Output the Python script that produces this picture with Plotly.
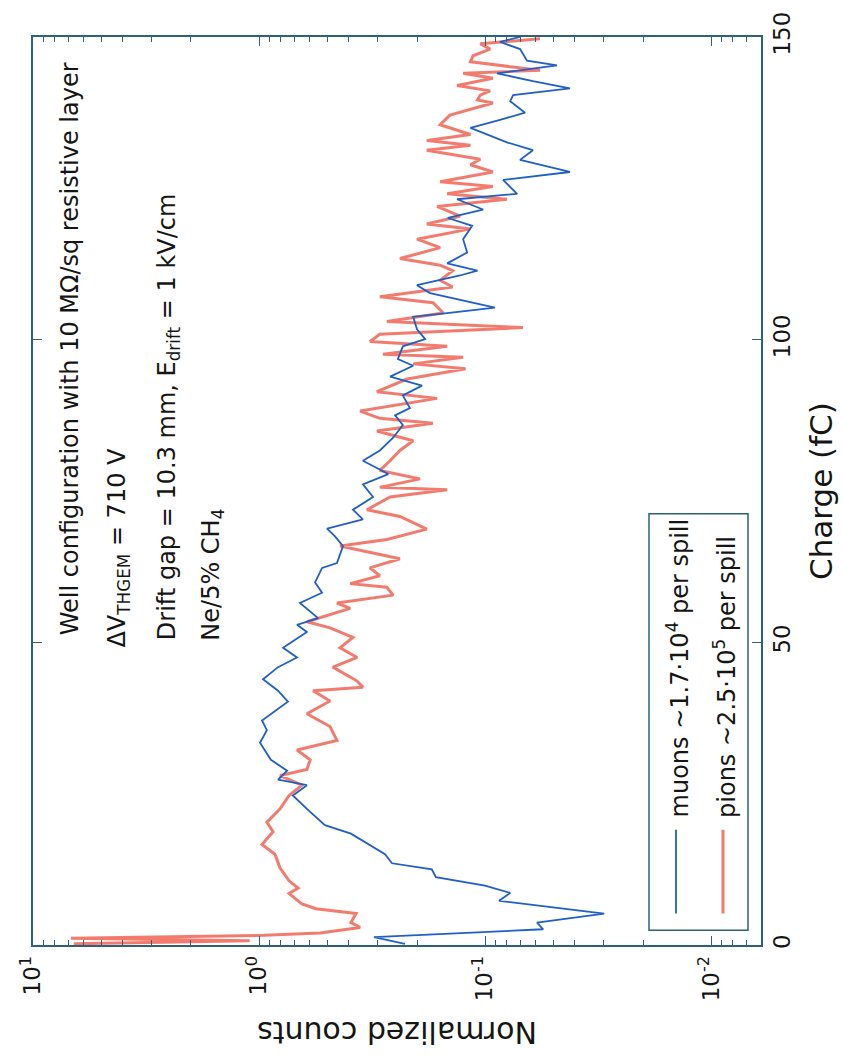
import plotly.graph_objects as go

# ---------------- data ----------------
muon_charge = [0.2, 1.3, 2.6, 3.7, 5.2, 7.3, 8.6, 9.8, 11.2, 12.5, 13.5, 15.0, 18.4, 19.8, 22.5, 24.7,
               26.4, 27.3, 28.8, 30.6, 33.4, 35.5, 37.1, 40.2, 42.0, 43.9, 45.9, 47.5, 49.1, 51.7, 52.9,
               54.0, 56.5, 58.2, 59.9, 62.3, 63.1, 65.9, 67.5, 68.8, 70.3, 71.9, 74.0, 76.1, 77.8, 80.0,
               81.7, 83.8, 85.9, 87.5, 88.7, 90.8, 92.4, 93.9, 95.7, 96.8, 98.9, 100.1, 101.7, 103.8,
               104.4, 105.3, 107.7, 109.0, 110.6, 111.4, 112.6, 114.4, 116.6, 118.8, 120.1, 121.5, 123.2,
               124.1, 126.4, 127.7, 129.7, 131.3, 132.6, 135.0, 136.3, 137.5, 139.4, 140.4, 141.5, 142.7,
               144.0, 144.8, 145.3, 146.1, 148.0, 149.2, 150.0]
muon_counts = [0.226, 0.310, 0.0553, 0.0589, 0.0297, 0.0867, 0.0774, 0.100, 0.165, 0.172, 0.258, 0.277,
               0.392, 0.511, 0.614, 0.708, 0.614, 0.824, 0.751, 0.886, 0.99, 0.923, 0.97, 0.745, 0.824,
               0.96, 0.824, 0.679, 0.783, 0.614, 0.679, 0.548, 0.659, 0.526, 0.565, 0.526, 0.452, 0.425,
               0.461, 0.500, 0.347, 0.384, 0.313, 0.347, 0.268, 0.347, 0.292, 0.255, 0.231, 0.250, 0.215,
               0.231, 0.190, 0.263, 0.208, 0.243, 0.231, 0.184, 0.200, 0.208, 0.147, 0.0904, 0.175, 0.200,
               0.129, 0.108, 0.147, 0.120, 0.125, 0.114, 0.146, 0.102, 0.133, 0.0721, 0.0832, 0.0421,
               0.070, 0.0614, 0.080, 0.116, 0.0859, 0.0665, 0.0774, 0.0751, 0.0421, 0.0614, 0.0885,
               0.0614, 0.048, 0.0652, 0.070, 0.0859, 0.070]

pion_charge = [0.2, 0.7, 1.1, 1.6, 2.0, 2.9, 3.7, 5.2, 6.0, 6.8, 8.5, 9.4, 10.6, 12.7, 15.0, 16.6, 18.7,
               20.3, 22.5, 24.7, 26.4, 28.0, 29.0, 30.6, 32.2, 33.8, 36.1, 38.2, 40.3, 42.0, 42.6, 43.6,
               45.9, 47.5, 49.1, 50.8, 52.4, 53.4, 55.6, 56.5, 57.8, 59.1, 59.7, 61.0, 62.3, 63.8, 65.9,
               67.0, 68.7, 70.8, 71.9, 74.0, 75.2, 75.6, 77.0, 78.4, 80.0, 81.7, 83.3, 84.9, 86.2, 87.0,
               88.2, 90.3, 91.4, 93.5, 95.2, 96.0, 97.1, 97.6, 98.9, 99.7, 100.9, 102.0, 103.0, 104.4,
               106.1, 107.1, 108.7, 109.8, 111.4, 112.3, 113.4, 115.2, 116.6, 118.3, 119.1, 120.4, 122.0,
               123.2, 124.1, 125.3, 126.1, 127.7, 128.9, 129.8, 131.3, 132.1, 132.9, 133.9, 135.5, 137.1,
               139.1, 139.6, 140.4, 141.1, 142.0, 143.2, 144.0, 144.5, 145.9, 146.9, 148.0, 148.9, 149.7]
pion_counts = [6.6, 1.1, 6.8, 0.95, 0.537, 0.357, 0.392, 0.372, 0.560, 0.646, 0.736, 0.671, 0.736, 0.807,
               0.850, 0.97, 0.867, 0.923, 0.807, 0.736, 0.646, 0.807, 0.614, 0.594, 0.679, 0.452, 0.485,
               0.614, 0.485, 0.577, 0.347, 0.368, 0.471, 0.368, 0.438, 0.384, 0.485, 0.614, 0.395, 0.452,
               0.255, 0.272, 0.395, 0.292, 0.323, 0.238, 0.438, 0.272, 0.181, 0.238, 0.333, 0.263, 0.147,
               0.292, 0.194, 0.292, 0.263, 0.238, 0.208, 0.301, 0.170, 0.292, 0.357, 0.163, 0.301, 0.221,
               0.122, 0.208, 0.125, 0.283, 0.147, 0.323, 0.292, 0.068, 0.272, 0.153, 0.170, 0.292, 0.139,
               0.158, 0.139, 0.158, 0.238, 0.158, 0.200, 0.116, 0.181, 0.129, 0.163, 0.080, 0.147, 0.0923,
               0.158, 0.0923, 0.116, 0.105, 0.181, 0.116, 0.181, 0.116, 0.158, 0.143, 0.0923, 0.108, 0.105,
               0.095, 0.133, 0.0923, 0.125, 0.0571, 0.116, 0.113, 0.095, 0.105, 0.0571]

count_tickvals = [10, 1, 0.1, 0.01]
count_ticktext = ["10<sup>1</sup>", "10<sup>0</sup>", "10<sup>-1</sup>", "10<sup>-2</sup>"]
charge_tickvals = [0, 50, 100, 150]
charge_ticktext = ["0", "50", "100", "150"]

muon_label = "muons ~1.7\u00b710<sup>4</sup> per spill"
pion_label = "pions ~2.5\u00b710<sup>5</sup> per spill"
info_lines = ["Well configuration with 10 M\u03a9/sq resistive layer",
              "\u0394V<sub>THGEM</sub> = 710 V",
              "Drift gap = 10.3 mm, E<sub>drift</sub> = 1 kV/cm",
              "Ne/5% CH<sub>4</sub>"]

# ---------------- styling / layout ----------------
W, H = 843, 1064
L, R, T, B = 33, 761, 23, 945
FONT = "DejaVu Sans, Arial, sans-serif"
FRAME = "#2e6079"
TXT = "#151515"
BLUE = "#1f5fc8"
RED = "rgba(240,100,85,0.85)"


def fx(px):
    return (px - L) / (R - L)


def fy(py):
    return (B - py) / (B - T)


minor_vals = []
for dec in [0.001, 0.01, 0.1, 1]:
    for k in range(2, 10):
        minor_vals.append(k * dec)

fig = go.Figure()
fig.add_trace(go.Scatter(x=pion_counts, y=pion_charge, mode="lines",
                         line=dict(color=RED, width=3), showlegend=False))
fig.add_trace(go.Scatter(x=muon_counts, y=muon_charge, mode="lines",
                         line=dict(color=BLUE, width=1.8), showlegend=False))

fig.update_layout(
    width=W, height=H,
    margin=dict(l=L, r=W - R, t=T, b=H - B, pad=0),
    paper_bgcolor="white", plot_bgcolor="white",
    font=dict(family=FONT, color=TXT),
    showlegend=False,
)
fig.update_xaxes(
    type="log", range=[1, -2.221],
    showgrid=False, zeroline=False,
    showline=True, linecolor=FRAME, linewidth=1.5, mirror="ticks",
    ticks="inside", ticklen=9, tickwidth=1.2, tickcolor=FRAME,
    tickvals=count_tickvals, ticktext=count_ticktext,
    tickangle=-90, tickfont=dict(size=23, color=TXT, family=FONT),
    ticklabeloverflow="allow",
    minor=dict(ticks="inside", ticklen=5, tickwidth=1, tickcolor=FRAME,
               tickvals=minor_vals, showgrid=False),
)
fig.update_yaxes(
    range=[0, 150], side="right",
    showgrid=False, zeroline=False,
    showline=True, linecolor=FRAME, linewidth=1.5, mirror="ticks",
    ticks="inside", ticklen=9, tickwidth=1.2, tickcolor=FRAME,
    tickvals=charge_tickvals, ticktext=charge_ticktext,
    tickangle=-90, tickfont=dict(size=23, color=TXT, family=FONT),
    ticklabeloverflow="allow",
)

ann = []
# axis titles
ann.append(dict(text="Charge (fC)", xref="paper", yref="paper", x=fx(841), y=fy(484),
                xanchor="right", yanchor="middle", textangle=-90, showarrow=False,
                font=dict(size=31, color=TXT, family=FONT)))
ann.append(dict(text="Normalized counts", xref="paper", yref="paper", x=fx(397), y=fy(1034),
                xanchor="center", yanchor="middle", textangle=180, showarrow=False,
                font=dict(size=30, color=TXT, family=FONT)))
# info text
info_x = [70, 119, 168, 213]
info_bottom = [633, 645, 638, 638]
for t, x0, yb in zip(info_lines, info_x, info_bottom):
    ann.append(dict(text=t, xref="paper", yref="paper", x=fx(x0), y=fy(yb),
                    xanchor="center", yanchor="bottom", textangle=-90, showarrow=False,
                    font=dict(size=24, color=TXT, family=FONT)))
# legend
leg_x = [676, 723]
for t, x0 in zip([muon_label, pion_label], leg_x):
    ann.append(dict(text=t, xref="paper", yref="paper", x=fx(x0 + 2), y=fy(818),
                    xanchor="center", yanchor="bottom", textangle=-90, showarrow=False,
                    font=dict(size=24, color=TXT, family=FONT)))
fig.update_layout(annotations=ann)

shapes = [
    dict(type="rect", xref="paper", yref="paper", x0=fx(649), x1=fx(748), y0=fy(930), y1=fy(507),
         line=dict(color=FRAME, width=1.5), fillcolor="white", layer="above"),
    dict(type="line", xref="paper", yref="paper", x0=fx(676), x1=fx(676), y0=fy(913), y1=fy(828),
         line=dict(color=BLUE, width=1.8)),
    dict(type="line", xref="paper", yref="paper", x0=fx(723), x1=fx(723), y0=fy(913), y1=fy(828),
         line=dict(color=RED, width=3)),
]
fig.update_layout(shapes=shapes)

fig.write_html("out.html")
